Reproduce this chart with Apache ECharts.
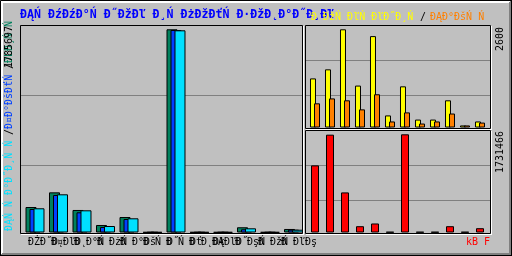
<!DOCTYPE html>
<html><head><meta charset="utf-8">
<script src="https://cdn.jsdelivr.net/npm/echarts@6/dist/echarts.min.js"></script>
<style>html,body{margin:0;padding:0;background:#c0c0c0}#c{width:512px;height:256px}</style>
</head><body><div id="c"></div>
<script>
// ---- data ----
const months = ['ĐŻĐ˝Đ˛','Đ¤ĐľĐ˛','Đ Đ°Ń ','Đ ĐżŃ ','Đ Đ°Đš','Đ Ń Đ˝','Đ Ń Đť','Đ Đ˛Đł','ĐĄĐľĐ˝','Đ ĐşŃ ','Đ ĐžŃ ','Đ ĐľĐş'];
const hits   = [224000, 353000, 198000, 66000, 136000, 3000, 1785697, 3000, 3000, 46000, 3000, 31000];
const files  = [206500, 329500, 177500, 48300, 118600, 3000, 1779600, 3000, 3000, 28100, 3000, 24600];
const pages  = [212700, 335700, 195100, 57100, 124800, 3000, 1776900, 3000, 3000, 36900, 3000, 24600];
const visits = [1300, 1540, 2600, 1110, 2420, 320, 1090, 210, 210, 720, 55, 160];
const sites  = [640, 770, 720, 480, 880, 160, 400, 105, 160, 370, 55, 130];
const kbytes = [1183800, 1725000, 706700, 111300, 159000, 10000, 1731466, 10000, 10000, 111300, 10000, 76000];
const maxHitsLabel = '1785697';
const maxVisitsLabel = '2600';
const maxKbLabel = '1731466';
const titleText = 'ĐĄŃ ĐźĐźĐ°Ń Đ˝ĐžĐľ Đ¸Ń ĐżĐžĐťŃ Đ·ĐžĐ˛Đ°Đ˝Đ¸Đľ';
const pagesText = 'ĐĄŃ Ń Đ°Đ˝Đ¸Ń Ń ';
const filesText = 'Đ¤Đ°ĐšĐťŃ ';
const hitsText  = 'ĐĽĐ¸Ń Ń ';
const visitsText = 'Đ ĐžŃ ĐľŃ ĐľĐ˝Đ¸Ń ';
const sitesText  = 'ĐĄĐ°ĐšŃ Ń ';
const kbText = 'kB F';

// ---- styles ----
const MONO = '"DejaVu Sans Mono", monospace';
const small = '10px ' + MONO;
const C = {hits:'#00805c', files:'#0040ff', pages:'#00e0ff', visits:'#ffff00', sites:'#ff8000', kb:'#ff0000'};
const border = {borderColor:'#000', borderWidth:1};

const mainMax = 1785697 * 206.5 / 203.2;
const trMax = 2600 * 101.5 / 98.2;
const brMax = 1731466 * 101.5 / 98.2;

function hiddenCat(grid){ return {type:'category', gridIndex:grid, data:months, show:false}; }
function hiddenVal(grid,max){ return {type:'value', gridIndex:grid, min:0, max:max, show:false}; }
function gridVal(grid,max,step){
  return {type:'value', gridIndex:grid, inverse:true, min:0, max:max, interval:step,
    axisLine:{show:false}, axisTick:{show:false}, axisLabel:{show:false},
    splitLine:{show:true, showMinLine:false, showMaxLine:false, lineStyle:{color:'#808080', width:1}}};
}

function line(x1,y1,x2,y2,color){
  return {type:'line', z:100, silent:true, shape:{x1,y1,x2,y2}, style:{stroke:color, lineWidth:1}};
}
function txt(text,x,y,color,font,extra){
  return Object.assign({type:'text', z:110, silent:true, x:x, y:y,
    style:{text:text, x:0, y:0, fill:color, font:font, align:'left', verticalAlign:'middle'}}, extra||{});
}
function upTxt(text,x,y,color){ return txt(text,x,y,color,small,{rotation:Math.PI/2}); }
function panel(x0,y0,x1,y1){
  return [
    line(x0+0.5,y0+0.5,x1+0.5,y0+0.5,'#000'),
    line(x0+0.5,y0+0.5,x0+0.5,y1+0.5,'#000'),
    line(x1+0.5,y0+0.5,x1+0.5,y1+0.5,'#000'),
    line(x0+0.5,y1+0.5,x1+0.5,y1+0.5,'#000'),
    line(x1+1.5,y0+1,x1+1.5,y1+2,'#fff'),
    line(x0+1,y1+1.5,x1+2,y1+1.5,'#fff')
  ];
}

const graphics = [].concat(
  // outer bevel
  [line(0.5,0.5,511.5,0.5,'#000'), line(0.5,0.5,0.5,255.5,'#000'),
   line(511.5,0,511.5,256,'#000'), line(0,255.5,512,255.5,'#000'),
   line(1,1.5,510,1.5,'#fff'), line(1,2.5,509,2.5,'#fff'),
   line(1.5,1,1.5,254,'#fff'), line(2.5,1,2.5,253,'#fff'),
   line(510.5,1,510.5,255,'#808080'), line(509.5,2,509.5,255,'#808080'),
   line(1,254.5,511,254.5,'#808080'), line(2,253.5,511,253.5,'#808080')],
  panel(20,25,302,233),
  panel(305,25,490,128),
  panel(305,130,490,233),
  [
    txt(titleText, 20, 14.7, '#0000ff', 'bold 11.6px ' + MONO),
    txt(visitsText, 311, 17, C.visits, small),
    txt('/', 420, 17, '#000', small),
    txt(sitesText, 430, 17, C.sites, small),
    txt(kbText, 466, 242, C.kb, small),
    upTxt(pagesText, 9.5, 231, C.pages),
    upTxt('/', 9.5, 135, '#000'),
    upTxt(filesText, 9.5, 129, C.files),
    upTxt('/', 9.5, 69, '#000'),
    upTxt(hitsText, 9.5, 63, C.hits),
    upTxt(maxHitsLabel, 9.5, 68, '#000'),
    upTxt(maxVisitsLabel, 500, 51, '#000'),
    upTxt(maxKbLabel, 500, 173, '#000')
  ]
);

const option = {
  animation:false,
  backgroundColor:'#c0c0c0',
  grid:[
    {left:23.25, width:282, top:26, height:206.5},   // 0 main bars
    {left:20, width:282, top:25.5, height:207.5},    // 1 main gridlines
    {left:16.5, width:276, top:26, height:206.5},    // 2 month labels
    {left:307.5, width:180, top:26, height:101.5},   // 3 visits/sites bars
    {left:305, width:186, top:25, height:103},       // 4 gridlines
    {left:307.5, width:180, top:131, height:101.5},  // 5 kB bars
    {left:305, width:186, top:130, height:103}       // 6 gridlines
  ],
  xAxis:[
    hiddenCat(0),
    {type:'value', gridIndex:1, min:0, max:1, show:false},
    {type:'category', gridIndex:2, data:months, axisLine:{show:false}, axisTick:{show:false},
     axisLabel:{interval:0, align:'left', verticalAlign:'middle', margin:9.7, color:'#000', fontFamily:MONO, fontSize:10}},
    hiddenCat(3),
    {type:'value', gridIndex:4, min:0, max:1, show:false},
    hiddenCat(5),
    {type:'value', gridIndex:6, min:0, max:1, show:false}
  ],
  yAxis:[
    hiddenVal(0, mainMax),
    gridVal(1, 207.5, 70),
    hiddenVal(2, 1),
    hiddenVal(3, trMax),
    gridVal(4, 103, 35),
    hiddenVal(5, brMax),
    gridVal(6, 103, 35)
  ],
  series:[
    {type:'bar', xAxisIndex:0, yAxisIndex:0, data:hits, barWidth:11, barGap:'-63.64%', itemStyle:Object.assign({color:C.hits},border)},
    {type:'bar', xAxisIndex:0, yAxisIndex:0, data:files, barWidth:11, barGap:'-63.64%', itemStyle:Object.assign({color:C.files},border)},
    {type:'bar', xAxisIndex:0, yAxisIndex:0, data:pages, barWidth:11, barGap:'-63.64%', itemStyle:Object.assign({color:C.pages},border)},
    {type:'bar', xAxisIndex:3, yAxisIndex:3, data:visits, barWidth:6, barGap:'-33.33%', itemStyle:Object.assign({color:C.visits},border)},
    {type:'bar', xAxisIndex:3, yAxisIndex:3, data:sites, barWidth:6, barGap:'-33.33%', itemStyle:Object.assign({color:C.sites},border)},
    {type:'bar', xAxisIndex:5, yAxisIndex:5, data:kbytes, barWidth:8, itemStyle:Object.assign({color:C.kb},border)}
  ],
  graphic:{elements:graphics}
};
const chart = echarts.init(document.getElementById('c'), null, {renderer:'canvas'});
chart.setOption(option);
</script>
</body></html>
